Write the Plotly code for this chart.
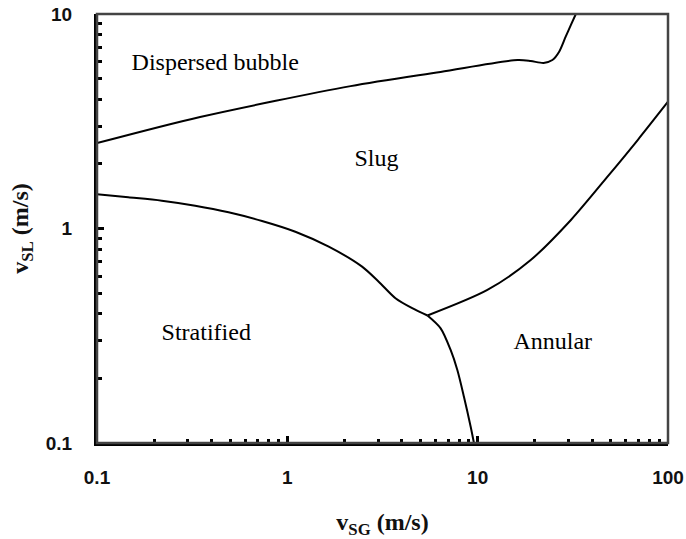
import plotly.graph_objects as go

# Boundary curves (v_SG, v_SL) in m/s
db_x = [0.1, 0.348, 2.15, 6.38, 16.2, 19.0, 22.2, 24.7, 26.8, 29.0, 30.9, 32.8]
db_y = [2.5, 3.31, 4.61, 5.37, 6.10, 6.04, 5.91, 6.10, 6.67, 7.84, 8.89, 10.0]

st_x = [0.1, 0.146, 0.219, 0.328, 0.491, 0.736, 1.102, 1.65, 2.47, 3.02, 3.70, 4.53, 5.45]
st_y = [1.444, 1.398, 1.348, 1.277, 1.190, 1.084, 0.966, 0.823, 0.664, 0.565, 0.473, 0.425, 0.393]

sa_x = [5.45, 6.39, 7.21, 7.82, 8.47, 9.19, 9.56]
sa_y = [0.393, 0.3425, 0.2714, 0.2189, 0.1643, 0.1191, 0.1]

an_x = [5.45, 11.25, 19.0, 30.9, 48.1, 69.3, 100.0]
an_y = [0.393, 0.517, 0.713, 1.096, 1.744, 2.585, 3.9]

region_names = ["Dispersed bubble", "Slug", "Stratified", "Annular"]
region_x = [0.418, 2.94, 0.375, 24.8]
region_y = [5.84, 2.08, 0.322, 0.292]

x_tickvals = [0.1, 1, 10, 100]
x_ticktext = ["0.1", "1", "10", "100"]
y_tickvals = [0.1, 1, 10]
y_ticktext = ["0.1", "1", "10"]

fig = go.Figure()
line_style = dict(color="black", width=2, shape="spline", smoothing=0.8)
for xs, ys in [(db_x, db_y), (st_x, st_y), (sa_x, sa_y), (an_x, an_y)]:
    fig.add_trace(go.Scatter(x=xs, y=ys, mode="lines", line=line_style,
                             showlegend=False, hoverinfo="skip"))

fig.add_trace(go.Scatter(x=region_x, y=region_y, mode="text", text=region_names,
                         textfont=dict(family="Liberation Serif, Times New Roman, serif",
                                       size=24, color="black"),
                         showlegend=False, hoverinfo="skip"))

tickfont = dict(family="Liberation Sans", size=19, color="#111111", weight="bold")
titlefont = dict(family="Liberation Serif", size=24, color="#111111", weight="bold")

fig.update_layout(
    width=686, height=539,
    margin=dict(l=97, r=18, t=14, b=96),
    paper_bgcolor="white", plot_bgcolor="white",
    shapes=[dict(type="rect", xref="paper", yref="paper", x0=0, y0=0, x1=1, y1=1,
                 line=dict(color="#444444", width=2.5), layer="above")],
)
fig.update_xaxes(type="log", range=[-1, 2], tickvals=x_tickvals, ticktext=x_ticktext,
                 ticks="inside", ticklen=7, tickwidth=3, tickcolor="black",
                 showline=True, linecolor="black", linewidth=3, showgrid=False,
                 zeroline=False, tickfont=tickfont, ticklabelstandoff=15,
                 ticklabeloverflow="allow",
                 minor=dict(ticks="inside", ticklen=4, tickwidth=3, tickcolor="black",
                            dtick="D1", showgrid=False),
                 title=dict(text="v<sub>SG</sub> (m/s)", font=titlefont, standoff=27),
                 automargin=False)
fig.update_yaxes(type="log", range=[-1, 1], tickvals=y_tickvals, ticktext=y_ticktext,
                 ticks="inside", ticklen=7, tickwidth=3, tickcolor="black",
                 showline=True, linecolor="black", linewidth=3, showgrid=False,
                 zeroline=False, tickfont=tickfont, ticklabelstandoff=18,
                 ticklabeloverflow="allow",
                 minor=dict(ticks="inside", ticklen=5, tickwidth=2.5, tickcolor="black",
                            dtick="D1", showgrid=False),
                 title=dict(text="v<sub>SL</sub> (m/s)", font=titlefont, standoff=11),
                 automargin=False)

fig.write_html("out.html", config={"displayModeBar": False},
               post_script="document.body.style.margin='0';")
